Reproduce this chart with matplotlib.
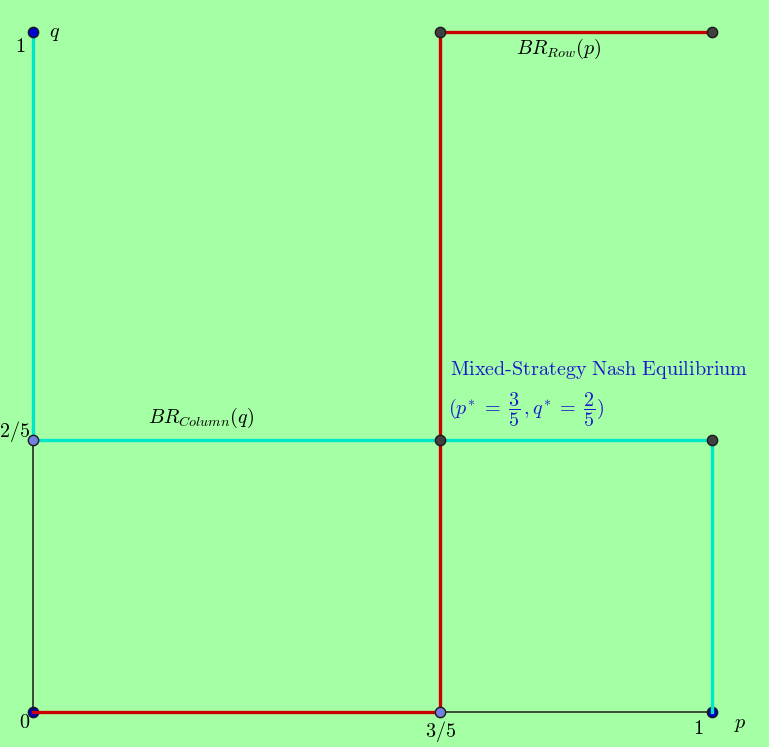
import matplotlib.pyplot as plt

plt.rcParams['mathtext.fontset'] = 'cm'
plt.rcParams['font.family'] = 'serif'

# best-response corners
br_column_p = [0, 0, 1, 1]
br_column_q = [1, 0.4, 0.4, 0]
br_row_p = [0, 0.6, 0.6, 1]
br_row_q = [0, 0, 1, 1]

# thin black boundary bits
edge_left_p, edge_left_q = [0, 0], [0, 0.4]
edge_bottom_p, edge_bottom_q = [0.6, 1], [0, 0]

# points under the lines / over the lines
under_p, under_q = [0, 1], [0, 0]
blue_p, blue_q = [0], [1]
light_p, light_q = [0, 0.6], [0.4, 0]
gray_p, gray_q = [0.6, 1, 0.6, 1], [1, 1, 0.4, 0.4]

W, H = 769, 747
fig = plt.figure(figsize=(W / 100, H / 100), dpi=100)
ax = fig.add_axes([0, 0, 1, 1])
bg = '#a5ffa5'
fig.patch.set_facecolor(bg)
ax.set_facecolor(bg)
ax.set_xlim(-33 / 679, 1 + 57 / 679)
ax.set_ylim(-35 / 680, 1 + 32 / 680)
ax.axis('off')

cyan = '#00e6c8'
red = '#cc0000'

ax.scatter(under_p, under_q, s=55, color='#0000cc', edgecolor='#1a1a1a', linewidth=1, zorder=2)
ax.scatter(blue_p, blue_q, s=55, color='#0000cc', edgecolor='#1a1a1a', linewidth=1, zorder=5)
ax.plot(edge_left_p, edge_left_q, color='#1a1a1a', lw=1.1, zorder=3)
ax.plot(edge_bottom_p, edge_bottom_q, color='#1a1a1a', lw=1.1, zorder=3)
ax.plot(br_column_p, br_column_q, color=cyan, lw=2.4, zorder=3, solid_joinstyle='miter')
ax.plot(br_row_p, br_row_q, color=red, lw=2.4, zorder=4, solid_joinstyle='miter')
ax.scatter(light_p, light_q, s=55, color='#7380e0', edgecolor='#1a1a1a', linewidth=1, zorder=5)
ax.scatter(gray_p, gray_q, s=55, color='#404040', edgecolor='#1a1a1a', linewidth=1, zorder=5)

fs = 14.5
ax.text(-13 / 679, 1 - 14 / 680, r'$1$', fontsize=fs, ha='center', va='center')
ax.text(22 / 679, 1 - 1 / 680, r'$q$', fontsize=fs, ha='center', va='center')
ax.text(-18 / 679, 0.4 + 9 / 680, r'$2/5$', fontsize=fs, ha='center', va='center')
ax.text(-8 / 679, -11 / 680, r'$0$', fontsize=fs, ha='center', va='center')
ax.text(0.6, -19 / 680, r'$3/5$', fontsize=fs, ha='center', va='center')
ax.text(1 - 14 / 679, -17 / 680, r'$1$', fontsize=fs, ha='center', va='center')
ax.text(1 + 28 / 679, -13 / 680, r'$p$', fontsize=fs, ha='center', va='center')

ax.text((559 - 33) / 679, 1 - 17 / 680, r'$BR_{Row}(p)$', fontsize=fs, ha='center', va='center')
ax.text((201 - 33) / 679, 0.4 + 22 / 680, r'$BR_{Column}(q)$', fontsize=fs, ha='center', va='center')

blue_txt = '#1a1acc'
ax.text((450 - 33) / 679, (712 - 370) / 680, r'$\mathrm{Mixed\text{-}Strategy\ Nash\ Equilibrium}$',
        fontsize=fs, ha='left', va='center', color=blue_txt)
ax.text((448 - 33) / 679, (712 - 410) / 680,
        r'$(p^{*} \;=\; \dfrac{3}{5}\,, q^{*} \;=\; \dfrac{2}{5})$',
        fontsize=fs, ha='left', va='center', color=blue_txt)

fig.savefig('out.png', dpi=100, facecolor=bg)
